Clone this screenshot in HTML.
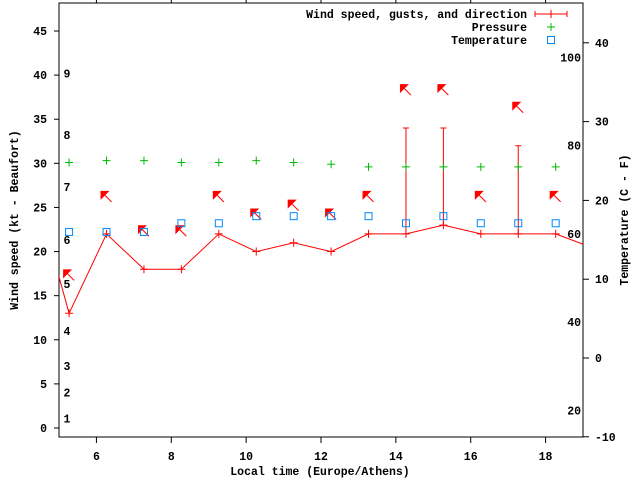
<!DOCTYPE html>
<html><head><meta charset="utf-8"><style>
body{margin:0;background:#fff}
svg{display:block;font-family:"Liberation Mono","DejaVu Sans Mono",monospace;font-weight:bold;font-size:11.5px}
</style></head><body>
<svg id="c" width="640" height="480" xmlns="http://www.w3.org/2000/svg"></svg>
<script>
const hours=[4.27,5.27,6.27,7.27,8.27,9.27,10.27,11.27,12.27,13.27,14.27,15.27,16.27,17.27,18.27,19.27];
const windKt=[28.3,13,22,18,18,22,20,21,20,22,22,23,22,22,22,20.4];
const obsHours=[5.27,6.27,7.27,8.27,9.27,10.27,11.27,12.27,13.27,14.27,15.27,16.27,17.27,18.27];
const gustKt=[null,null,null,null,null,null,null,null,null,34,34,null,32,null];
const arrowKt=[17.3,26.2,22.3,22.3,26.2,24.2,25.2,24.2,26.2,38.3,38.3,26.2,36.3,26.2];
const pressure=[30.1,30.3,30.3,30.1,30.1,30.3,30.1,29.9,29.6,29.6,29.6,29.6,29.6,29.6];
const tempC=[16,16,16,17.1,17.1,18,18,18,18,17.1,18,17.1,17.1,17.1];
const xTicks=[6,8,10,12,14,16,18];
const yTicks=[0,5,10,15,20,25,30,35,40,45];
const y2Ticks=[-10,0,10,20,30,40];
const bftLabels=["1","2","3","4","5","6","7","8","9"];
const bftKt=[1.1,4,7,11,16.3,21.3,27.3,33.2,40.2];
const fLabels=["20","40","60","80","100"];
const fKt=[2,12,22,32,42];

const L=59,R=583,T=3,B=437;
const X=h=>L+(h-5)*(R-L)/14;
const Y=v=>428-v*397/45;
const Y2=c=>358-c*7.88;
const svg=document.getElementById('c');
const NS='http://www.w3.org/2000/svg';
function el(t,a,p){const e=document.createElementNS(NS,t);for(const k in a)e.setAttribute(k,a[k]);(p||svg).appendChild(e);return e;}
function txt(x,y,s,anchor,name,p){const e=el('text',{x:x,y:y,'text-anchor':anchor||'middle'},p);e.textContent=s;

return e;}

const defs=el('defs',{});
el('clipPath',{id:'pc'},defs);
el('rect',{x:L,y:T,width:R-L,height:B-T},document.getElementById('pc'));

// axes ticks
xTicks.forEach(h=>{el('line',{x1:X(h),y1:B,x2:X(h),y2:B+6,stroke:'#000'});el('line',{x1:X(h),y1:T,x2:X(h),y2:T-6,stroke:'#000'});
 txt(X(h),B+23,String(h),'middle','x-tick-label');});
yTicks.forEach(v=>{el('line',{x1:L-5,y1:Y(v),x2:L,y2:Y(v),stroke:'#000'});
 txt(L-12,Y(v)+4,String(v),'end','y-tick-label');});
y2Ticks.forEach(c=>{el('line',{x1:R,y1:Y2(c),x2:R+6,y2:Y2(c),stroke:'#000'});
 txt(R+12,Y2(c)+4,String(c),'start','y2-tick-label');});
bftLabels.forEach((s,i)=>txt(67,Y(bftKt[i])+4,s,'middle','beaufort-label'));
fLabels.forEach((s,i)=>txt(581,Y(fKt[i])+4,s,'end','fahrenheit-label'));

const frame=el('rect',{x:L,y:T,width:R-L,height:B-T,fill:'none',stroke:'#000'});



const g=el('g',{'clip-path':'url(#pc)'});



// wind line
const wl=el('polyline',{points:hours.map((h,i)=>X(h)+','+Y(windKt[i])).join(' '),fill:'none',stroke:'#f00'},g);


obsHours.forEach((h,i)=>{
 const x=X(h),y=Y(windKt[i+1]);
 const m=el('path',{d:`M${x-4},${y}h8M${x},${y-4}v8`,stroke:'#f00'},g);
 
 
 if(gustKt[i]!=null){const gy=Y(gustKt[i]);
  const b=el('path',{d:`M${x},${y}V${gy}M${x-3},${gy}h6`,stroke:'#f00'},g);
  
  }
 const ay=Y(arrowKt[i]);
 const a=el('g',{},g);
 
 
 el('path',{d:`M${x-6},${ay-6}L${x+3},${ay-6}L${x-6},${ay+3}Z`,fill:'#f00'},a);
 el('line',{x1:x-3,y1:ay-3,x2:x+5,y2:ay+5,stroke:'#f00'},a);
 const p=el('path',{d:`M${x-4},${Y(pressure[i])}h8M${x},${Y(pressure[i])-4}v8`,stroke:'#0b0'},g);
 
 
 const t=el('rect',{x:x-3.5,y:Y2(tempC[i])-3.5,width:7,height:7,fill:'none',stroke:'#08f'},g);
 
 
});

// legend
txt(527,18,'Wind speed, gusts, and direction','end','legend-wind');
el('path',{d:'M535,14h32M535,11v6M567,11v6M551,10v8',stroke:'#f00'});
txt(527,31,'Pressure','end','legend-pressure');
el('path',{d:'M547,27h8M551,23v8',stroke:'#0b0'});
txt(527,44,'Temperature','end','legend-temperature');
el('rect',{x:547.5,y:36.5,width:7,height:7,fill:'none',stroke:'#08f'});

txt(320,475,'Local time (Europe/Athens)','middle','x-axis-title');
const yt=txt(0,0,'Wind speed (kt - Beaufort)','middle','y-axis-title');yt.setAttribute('transform','translate(18,220) rotate(-90)');
const y2t=txt(0,0,'Temperature (C - F)','middle','y2-axis-title');y2t.setAttribute('transform','translate(628,220) rotate(-90)');
</script>
</body></html>
